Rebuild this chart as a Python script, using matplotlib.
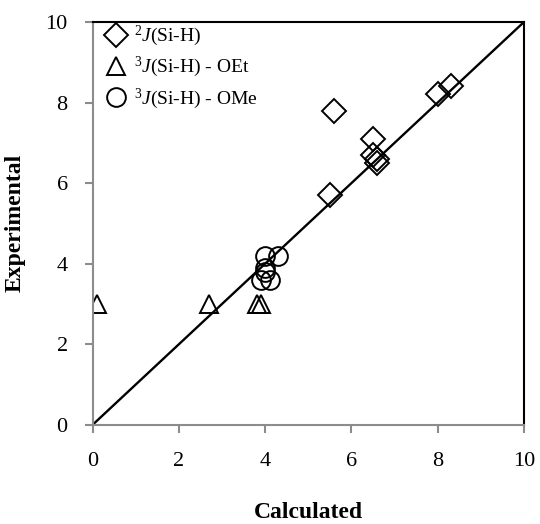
import numpy as np
import matplotlib.pyplot as plt

plt.rcParams['font.family'] = ['Liberation Serif', 'DejaVu Serif']
plt.rcParams['mathtext.fontset'] = 'custom'
plt.rcParams['mathtext.rm'] = 'Liberation Serif'
plt.rcParams['mathtext.it'] = 'Liberation Serif:italic'

# 2J(Si-H)
calc_2j = [5.5, 5.6, 6.5, 6.5, 6.6, 6.6, 8.0, 8.3]
exp_2j = [5.7, 7.8, 7.1, 6.7, 6.6, 6.5, 8.2, 8.4]

# 3J(Si-H) - OEt
calc_oet = [0.1, 2.7, 3.8, 3.9]
exp_oet = [3.0, 3.0, 3.0, 3.0]

# 3J(Si-H) - OMe
calc_ome = [4.0, 4.3, 4.0, 4.0, 3.9, 4.1]
exp_ome = [4.2, 4.2, 3.9, 3.8, 3.6, 3.6]

fig = plt.figure(figsize=(5.4, 5.24), dpi=100)
ax = fig.add_axes([0.1717, 0.1895, 0.7986, 0.7685])

ax.plot([0, 10], [0, 10], color='black', lw=1.7, zorder=1)

ax.plot(calc_2j, exp_2j, 'D', ms=12, mfc='none', mec='black', mew=1.4,
        label=r'$^{2}\mathit{J}$(Si-H)')
ax.plot(calc_oet, exp_oet, '^', ms=13.5, mfc='none', mec='black', mew=1.4,
        label=r'$^{3}\mathit{J}$(Si-H) - OEt')
ax.plot(calc_ome, exp_ome, 'o', ms=13.5, mfc='none', mec='black', mew=1.4,
        label=r'$^{3}\mathit{J}$(Si-H) - OMe')

ax.set_xlim(0, 10)
ax.set_ylim(0, 10)
ax.set_xticks(np.arange(0, 11, 2))
ax.set_yticks(np.arange(0, 11, 2))

ax.spines['left'].set_color('#8c8c8c')
ax.spines['bottom'].set_color('#8c8c8c')
ax.spines['left'].set_linewidth(1.5)
ax.spines['bottom'].set_linewidth(1.5)
ax.spines['top'].set_color('black')
ax.spines['right'].set_color('black')
ax.spines['top'].set_linewidth(1.5)
ax.spines['right'].set_linewidth(1.5)
ax.tick_params(direction='out', length=6, width=1.5, color='#8c8c8c',
               labelsize=16, pad=12)
ax.tick_params(axis='x', pad=14)

ax.set_xlabel('Calculated', fontsize=17, fontweight='bold', labelpad=22)
ax.set_ylabel('Experimental', fontsize=17, fontweight='bold', labelpad=14)

ax.legend(loc='upper left', bbox_to_anchor=(0.012, 1.0), frameon=False,
          fontsize=14, handletextpad=0.05, labelspacing=0.35,
          borderaxespad=0.0, borderpad=0.1, handlelength=1.7)

plt.savefig('out.png')
